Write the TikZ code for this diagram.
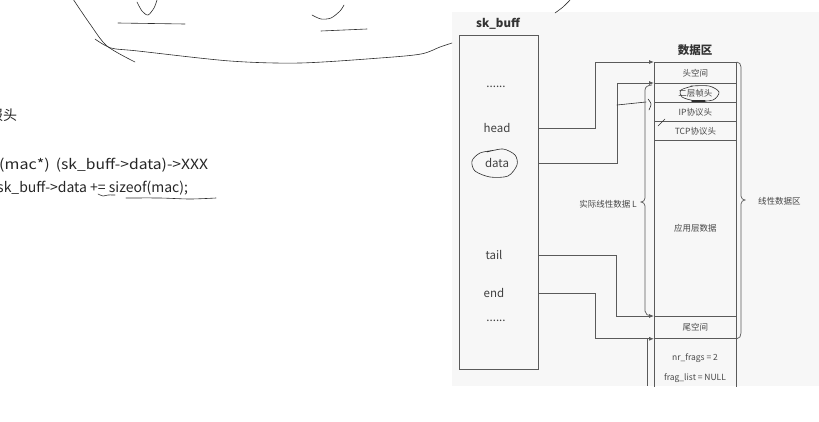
\documentclass[tikz,border=0pt]{standalone}
\usepackage{fontspec}
\setmainfont{Noto Sans CJK SC}
\usetikzlibrary{arrows.meta}
\definecolor{panel}{RGB}{247,247,247}
\definecolor{ln}{RGB}{90,90,90}
\definecolor{txt}{RGB}{70,70,70}
\definecolor{pen}{RGB}{45,45,45}
\begin{document}
\begin{tikzpicture}[x=1pt,y=-1pt,
  lnstyle/.style={draw=ln, line width=0.8pt},
  conn/.style={lnstyle, -{Latex[length=5pt,width=4pt]}},
  row/.style={lnstyle, minimum width=82pt, inner sep=0pt, anchor=north west,
    font=\fontsize{8.5}{10}\selectfont, text=txt},
  lbl/.style={font=\fontsize{11.5}{13}\selectfont, text=black!75, inner sep=1pt},
  title/.style={font=\fontsize{11.5}{13}\selectfont\bfseries, text=black!80, inner sep=1pt},
  side/.style={font=\fontsize{8.5}{10}\selectfont, text=txt, inner sep=1pt},
  code/.style={font=\fontsize{14}{16}\selectfont, text=black!85, inner sep=0pt, anchor=west},
  pen/.style={draw=pen, line width=0.6pt, line cap=round, line join=round}]
\useasboundingbox (0,0) rectangle (819,421);
\clip (0,0) rectangle (819,421);
\fill[panel] (452,12) rectangle (819,386);

% left text
\node[code] (hdr) at (-11,115) {报头};
\node[code] (c1) at (-1,165) {\scalebox{1.15}[1]{(mac*)}\hspace{6pt}\scalebox{1.12}[1]{(sk\_buff->data)->XXX}};
\node[code] (c2) at (-3,188) {sk\_buff->data += sizeof(mac);};

% sk_buff
\node[title] (skt) at (498,24) {sk\_buff};
\node[lnstyle, minimum width=79pt, minimum height=334pt, anchor=north west, inner sep=0pt] (sk) at (459,35) {};
\node[lbl] (dots1) at (496,87) {......};
\node[lbl] (ptrhead) at (497,128) {head};
\node[lbl] (ptrdata) at (497,163) {data};
\node[lbl] (ptrtail) at (494,255) {tail};
\node[lbl] (ptrend) at (494,293) {end};
\node[lbl] (dots2) at (496,321) {......};

% data area
\node[title] (dt) at (695,50) {数据区};
\node[row, minimum height=21pt] (hr) at (654,62) {头空间};
\node[row, minimum height=19pt] (l2) at (654,83) {二层帧头};
\node[row, minimum height=19pt] (ip) at (654,102) {IP协议头};
\node[row, minimum height=19pt] (tcp) at (654,121) {TCP协议头};
\node[row, minimum height=176pt] (app) at (654,140) {应用层数据};
\node[row, minimum height=22pt] (tr) at (654,316) {尾空间};
\draw[lnstyle] (tr.south west) -- ++(0,48);
\draw[lnstyle] (tr.south east) -- ++(0,48);
\coordinate (lowl) at (647,338);
\draw[lnstyle] (lowl) -- ++(0,48);
\node[side] (nf) at (695,358) {nr\_frags = 2};
\node[side] (fl) at (695,378) {frag\_list = NULL};

% connectors
\draw[conn] (sk.east |- ptrhead) -| ([xshift=-59pt]hr.north west) -- (hr.north west);
\draw[conn] (sk.east |- ptrdata) -| ([xshift=-37pt]l2.north west) -- (l2.north west);
\draw[conn] (sk.east |- ptrtail) -| ([xshift=-38pt]tr.north west) -- (tr.north west);
\draw[conn] (sk.east |- ptrend) -| ([xshift=-59pt]tr.south west) -- (tr.south west);

% braces
\draw[lnstyle, line width=0.7pt] (hr.north east) to[out=0,in=90] (741,67) -- (741,196)
  to[out=-90,in=180] (745,200) to[out=180,in=90] (741,204) -- (741,333) to[out=-90,in=0] (tr.south east);
\node[side, anchor=west] (lin) at (757,201) {线性数据区};
\draw[lnstyle, line width=0.7pt] (652,85) to[out=180,in=90] (645,90) -- (645,198)
  to[out=-90,in=0] (641,202) to[out=0,in=90] (645,206) -- (645,311) to[out=-90,in=180] (651,316);
\node[side, anchor=east] (act) at (638,204) {实际线性数据 L};

% hand annotations
\draw[pen] plot[smooth] coordinates {(73,-1) (90,24) (107,46) (135,62)};
\draw[pen] plot[smooth] coordinates {(95,39) (111,48) (138,51) (230,61) (300,63) (380,58) (421,54) (440,47) (452,43)};
\draw[pen] plot[smooth] coordinates {(137,2) (142,11) (148,15) (154,8) (157,0)};
\draw[pen] (118,23) -- (185,24);
\draw[pen] plot[smooth] coordinates {(312,15) (321,19) (331,18) (340,11) (344,5)};
\draw[pen] (321,31) -- (367,29);
\draw[pen] plot[smooth] coordinates {(555,13) (563,7) (571,-1)};
\draw[pen] plot[smooth] coordinates {(98,194) (103,196) (108,195) (115,195)};
\draw[pen] plot[smooth] coordinates {(126,198) (160,198) (190,199) (216,198)};
\draw[pen] plot[smooth] coordinates {(487,152) (503,149) (515,155) (517,165) (508,176) (490,177) (475,171) (472,161) (480,153) (496,150)};
\draw[pen] plot[smooth] coordinates {(691,86) (709,86) (719,92) (713,100) (696,101) (682,97) (681,90) (693,86)};
\draw[pen, line width=1.4pt] (692,101) -- (705,101);
\draw[pen] (617,105) -- (646,102);
\draw[pen] plot[smooth] coordinates {(648,99) (651,104) (649,110)};
\draw[pen] (658,126) -- (665,119);
\end{tikzpicture}
\end{document}
